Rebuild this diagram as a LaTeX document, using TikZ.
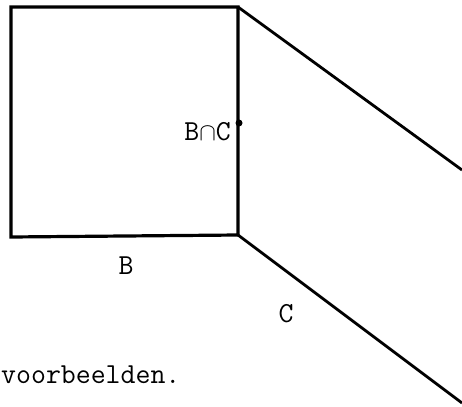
\documentclass[tikz,border=0pt]{standalone}
\usepackage{fontspec}
\begin{document}
\begin{tikzpicture}[x=1pt, y=-1pt, line join=miter,
    rand/.style={line width=3.2pt},
    schuin/.style={line width=2.8pt},
    lbl/.style={font=\ttfamily\fontsize{29}{33}\selectfont, inner sep=0pt}]
        \useasboundingbox (0,0) rectangle (462,406);

        \coordinate (lb) at (11,237);
        \coordinate (lo) at (11,7);
        \coordinate (rb) at (238,7);
        \coordinate (ro) at (238,235);
        \coordinate (eb) at (462,170);
        \coordinate (eo) at (462,403);

        \draw[rand] (lb) -- (lo) -- (rb) -- (ro) -- cycle;
        \draw[schuin] (rb) -- (eb);
        \draw[schuin] (ro) -- (eo);

        \fill (239,123) circle (3.5pt) coordinate (snij);
        \node[lbl, anchor=base east] (bc) at (231,140) {B$\cap$C};
        \node[lbl, anchor=base] (b) at (126,274) {B};
        \node[lbl, anchor=base] (c) at (286,322) {C};
        \node[lbl, anchor=base west] (tekst) at (1,383) {voorbeelden.};
    \end{tikzpicture}
\end{document}
